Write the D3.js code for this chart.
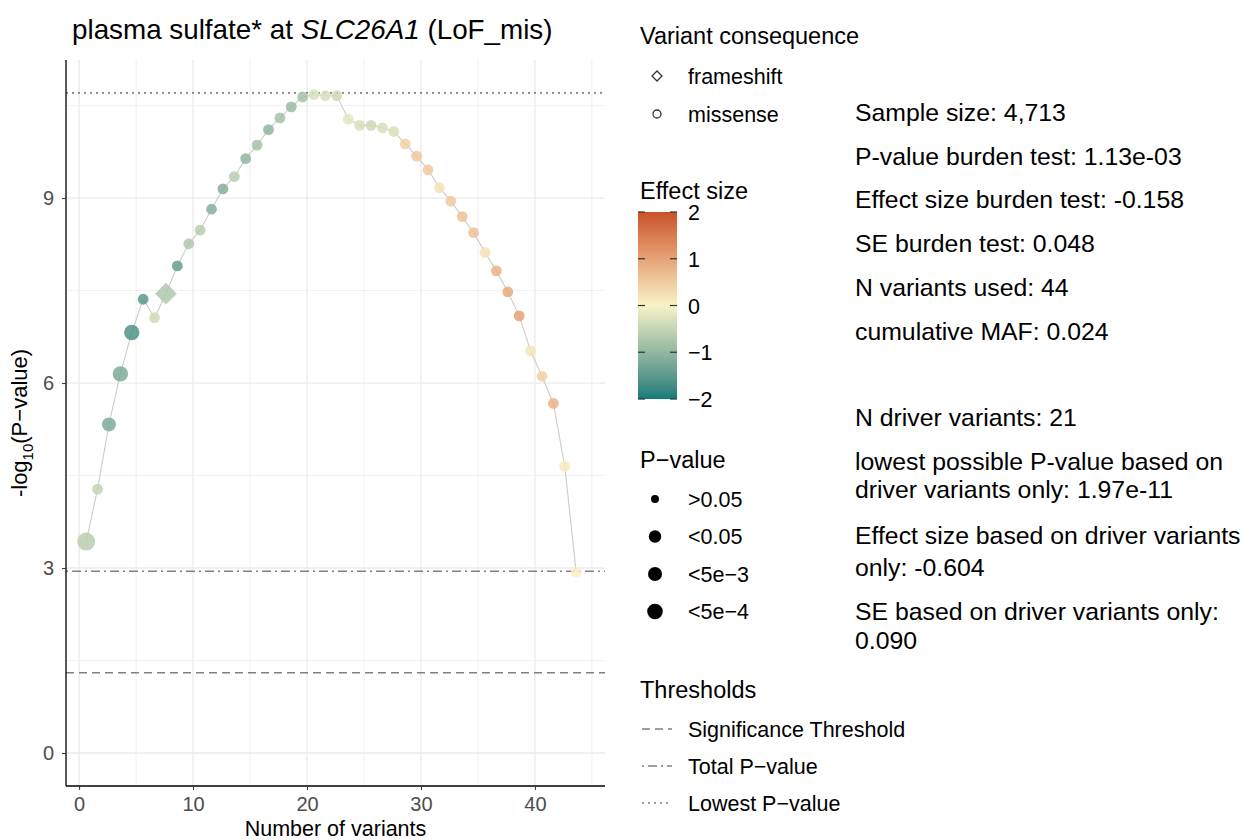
<!DOCTYPE html>
<html>
<head>
<meta charset="utf-8">
<title>plasma sulfate at SLC26A1</title>
<script src="https://d3js.org/d3.v7.min.js"></script>
<style>
  body { margin: 0; background: #ffffff; }
  svg { display: block; font-family: "Liberation Sans", Arial, sans-serif; }
  .tick text { fill: #4d4d4d; font-size: 20px; }
</style>
</head>
<body>
<div id="chart"></div>
<script>
// cumulative burden test, one point per added variant
const logP = [3.43, 4.28, 5.33, 6.15, 6.82, 7.36, 7.06, 7.45, 7.90, 8.26,
              8.48, 8.82, 9.15, 9.35, 9.64, 9.86, 10.11, 10.30, 10.48, 10.64,
              10.68, 10.66, 10.66, 10.28, 10.18, 10.18, 10.14, 10.08, 9.88, 9.68,
              9.46, 9.17, 8.95, 8.70, 8.44, 8.12, 7.82, 7.48, 7.09, 6.52,
              6.11, 5.67, 4.65, 2.93];
const effect = [-0.6, -0.5, -1.2, -1.2, -1.6, -1.5, -0.4, -0.7, -1.4, -0.7,
                -0.6, -1.1, -1.1, -0.6, -1.0, -0.8, -1.0, -0.8, -0.9, -0.8,
                -0.3, -0.3, -0.4, -0.2, -0.3, -0.4, -0.3, -0.3, 0.4, 0.5,
                0.5, 0.2, 0.5, 0.6, 0.6, 0.2, 0.8, 0.9, 1.0, 0.15,
                0.4, 0.8, 0.1, 0.05];
const pClass = ["<5e-4", ">0.05", "<0.05", "<5e-3", "<5e-3", ">0.05", ">0.05", "<0.05", ">0.05", ">0.05",
                ">0.05", ">0.05", ">0.05", ">0.05", ">0.05", ">0.05", ">0.05", ">0.05", ">0.05", ">0.05",
                ">0.05", ">0.05", ">0.05", ">0.05", ">0.05", ">0.05", ">0.05", ">0.05", ">0.05", ">0.05",
                ">0.05", ">0.05", ">0.05", ">0.05", ">0.05", ">0.05", ">0.05", ">0.05", ">0.05", ">0.05",
                ">0.05", ">0.05", ">0.05", ">0.05"];
const frameshiftAt = [8];   // variant number with frameshift consequence, others missense

const pLevels = [">0.05", "<0.05", "<5e-3", "<5e-4"];
const consequences = ["frameshift", "missense"];
const effectTicks = [2, 1, 0, -1, -2];
const xTicks = [0, 10, 20, 30, 40];
const yTicks = [0, 3, 6, 9];

const thresholds = [
  { label: "Significance Threshold", value: 1.301, dash: "8,5" },
  { label: "Total P\u2212value", value: 2.947, dash: "2,4,9,4" },
  { label: "Lowest P\u2212value", value: 10.706, dash: "2,4" }
];

const infoLines = [
  "Sample size: 4,713",
  "P-value burden test: 1.13e-03",
  "Effect size burden test: -0.158",
  "SE burden test: 0.048",
  "N variants used: 44",
  "cumulative MAF: 0.024",
  "",
  "N driver variants: 21",
  "lowest possible P-value based on",
  "driver variants only: 1.97e-11",
  "Effect size based on driver variants",
  "only: -0.604",
  "SE based on driver variants only:",
  "0.090"
];
const infoY = [112, 156, 199, 243, 287, 331, null, 417, 461, 489, 535, 567, 611, 640];

// build rows
const data = logP.map((v, i) => ({
  n: i + 1,
  logP: v,
  effect: effect[i],
  p: pClass[i],
  type: frameshiftAt.includes(i + 1) ? "frameshift" : "missense"
}));

const W = 1260, H = 840;
const panel = { left: 66, right: 605, top: 60, bottom: 786 };
const nudge = -0.38;

const svg = d3.select("#chart").append("svg")
  .attr("width", W).attr("height", H);

const x = d3.scaleLinear().domain([-1.15, 46.15]).range([panel.left, panel.right]);
const y = d3.scaleLinear().domain([-0.535, 11.24]).range([panel.bottom, panel.top]);

const color = d3.scaleLinear()
  .domain([-2, 0, 2])
  .range(["#117c7a", "#f7f3c8", "#c8512a"])
  .interpolate(d3.interpolateLab);

const radius = d3.scaleOrdinal().domain(pLevels).range([5.4, 7, 7.7, 9]);

// grid
const grid = svg.append("g");
d3.range(5, 50, 10).forEach(v => {
  grid.append("line").attr("x1", x(v)).attr("x2", x(v))
    .attr("y1", panel.top).attr("y2", panel.bottom)
    .attr("stroke", "#f0f0f0").attr("stroke-width", 1);
});
d3.range(1.5, 12, 3).forEach(v => {
  grid.append("line").attr("x1", panel.left).attr("x2", panel.right)
    .attr("y1", y(v)).attr("y2", y(v))
    .attr("stroke", "#f0f0f0").attr("stroke-width", 1);
});
xTicks.forEach(v => {
  grid.append("line").attr("x1", x(v)).attr("x2", x(v))
    .attr("y1", panel.top).attr("y2", panel.bottom)
    .attr("stroke", "#ebebeb").attr("stroke-width", 1.4);
});
yTicks.forEach(v => {
  grid.append("line").attr("x1", panel.left).attr("x2", panel.right)
    .attr("y1", y(v)).attr("y2", y(v))
    .attr("stroke", "#ebebeb").attr("stroke-width", 1.4);
});

// threshold lines
svg.append("g").selectAll("line")
  .data(thresholds)
  .join("line")
  .attr("x1", panel.left).attr("x2", panel.right)
  .attr("y1", d => y(d.value)).attr("y2", d => y(d.value))
  .attr("stroke", "#808080")
  .attr("stroke-width", 1.6)
  .attr("stroke-dasharray", d => d.dash);

// connecting line
svg.append("path")
  .datum(data)
  .attr("fill", "none")
  .attr("stroke", "#cccccc")
  .attr("stroke-width", 1.1)
  .attr("d", d3.line().x(d => x(d.n + nudge)).y(d => y(d.logP)));

// points
const pts = svg.append("g").attr("opacity", 0.85);
pts.selectAll("circle")
  .data(data.filter(d => d.type === "missense"))
  .join("circle")
  .attr("cx", d => x(d.n + nudge))
  .attr("cy", d => y(d.logP))
  .attr("r", d => radius(d.p))
  .attr("fill", d => color(d.effect));
pts.selectAll("path")
  .data(data.filter(d => d.type === "frameshift"))
  .join("path")
  .attr("d", d => {
    const cx = x(d.n + nudge), cy = y(d.logP), s = radius(d.p) * 1.55;
    return `M${cx},${cy - s}L${cx + s},${cy}L${cx},${cy + s}L${cx - s},${cy}Z`;
  })
  .attr("fill", d => color(d.effect));

// axes
const xAxis = svg.append("g")
  .attr("transform", `translate(0,${panel.bottom})`)
  .call(d3.axisBottom(x).tickValues(xTicks).tickSize(4).tickPadding(7).tickSizeOuter(0));
const yAxis = svg.append("g")
  .attr("transform", `translate(${panel.left},0)`)
  .call(d3.axisLeft(y).tickValues(yTicks).tickSize(4).tickPadding(8).tickSizeOuter(0));
[xAxis, yAxis].forEach(a => {
  a.select(".domain").attr("stroke", "#000").attr("stroke-width", 1.3);
  a.selectAll(".tick line").attr("stroke", "#333");
  a.selectAll(".tick text").style("font-family", "Liberation Sans, Arial, sans-serif");
});
xAxis.select(".domain").attr("d", `M${panel.left},0H${panel.right}`);
yAxis.select(".domain").attr("d", `M0,${panel.bottom}V${panel.top}`);

svg.append("text")
  .attr("x", (panel.left + panel.right) / 2).attr("y", 836)
  .attr("text-anchor", "middle").attr("font-size", 21.5).attr("fill", "#000")
  .text("Number of variants");

const yl = svg.append("text")
  .attr("transform", `translate(27,${(panel.top + panel.bottom) / 2}) rotate(-90)`)
  .attr("text-anchor", "middle").attr("font-size", 22).attr("fill", "#000");
yl.append("tspan").text("-log");
yl.append("tspan").attr("font-size", 15).attr("dy", 6).text("10");
yl.append("tspan").attr("dy", -6).text("(P\u2212value)");

// title
const title = svg.append("text")
  .attr("x", 72).attr("y", 39)
  .attr("font-size", 27.8).attr("fill", "#000");
title.append("tspan").text("plasma sulfate* at ");
title.append("tspan").attr("font-style", "italic").text("SLC26A1");
title.append("tspan").text(" (LoF_mis)");

// legends
const lg = svg.append("g").attr("font-size", 21.5).attr("fill", "#000");

lg.append("text").attr("x", 640).attr("y", 43.5).attr("font-size", 23.5).text("Variant consequence");
consequences.forEach((c, i) => {
  const cy = 76 + i * 38;
  if (c === "frameshift") {
    lg.append("path")
      .attr("d", `M657,${cy - 5}L662,${cy}L657,${cy + 5}L652,${cy}Z`)
      .attr("fill", "none").attr("stroke", "#333").attr("stroke-width", 1.3);
  } else {
    lg.append("circle").attr("cx", 657).attr("cy", cy).attr("r", 4)
      .attr("fill", "none").attr("stroke", "#333").attr("stroke-width", 1.3);
  }
  lg.append("text").attr("x", 688).attr("y", cy + 7.5).text(c);
});

lg.append("text").attr("x", 640).attr("y", 198.5).attr("font-size", 23.5).text("Effect size");
const bar = { x: 638, y: 212, w: 39, h: 187 };
const defs = svg.append("defs");
const grad = defs.append("linearGradient").attr("id", "esgrad")
  .attr("x1", 0).attr("x2", 0).attr("y1", 0).attr("y2", 1);
d3.range(0, 21).forEach(i => {
  const v = 2 - i * 0.2;
  grad.append("stop").attr("offset", `${i * 5}%`).attr("stop-color", color(v));
});
lg.append("rect").attr("x", bar.x).attr("y", bar.y).attr("width", bar.w).attr("height", bar.h)
  .attr("fill", "url(#esgrad)");
const es = d3.scaleLinear().domain([2, -2]).range([bar.y, bar.y + bar.h]);
effectTicks.forEach(t => {
  const ty = es(t);
  lg.append("line").attr("x1", bar.x).attr("x2", bar.x + 7).attr("y1", ty).attr("y2", ty)
    .attr("stroke", "#333").attr("stroke-width", 1.2);
  lg.append("line").attr("x1", bar.x + bar.w - 7).attr("x2", bar.x + bar.w).attr("y1", ty).attr("y2", ty)
    .attr("stroke", "#333").attr("stroke-width", 1.2);
  lg.append("text").attr("x", bar.x + bar.w + 11).attr("y", ty + 8)
    .text(t < 0 ? "\u2212" + Math.abs(t) : t);
});

lg.append("text").attr("x", 640).attr("y", 467.5).attr("font-size", 23.5).text("P\u2212value");
const legendR = [4, 6.2, 7, 7.8];
pLevels.forEach((p, i) => {
  const cy = 499 + i * 37.5;
  lg.append("circle").attr("cx", 655).attr("cy", cy).attr("r", legendR[i]).attr("fill", "#000");
  lg.append("text").attr("x", 688).attr("y", cy + 7.5).text(p.replace("-", "\u2212"));
});

lg.append("text").attr("x", 640).attr("y", 697.5).attr("font-size", 23.5).text("Thresholds");
thresholds.forEach((t, i) => {
  const cy = 729 + i * 37;
  lg.append("line").attr("x1", 642).attr("x2", 672).attr("y1", cy).attr("y2", cy)
    .attr("stroke", "#808080").attr("stroke-width", 1.6).attr("stroke-dasharray", t.dash);
  lg.append("text").attr("x", 688).attr("y", cy + 7.5).text(t.label);
});

// statistics text
svg.append("g").selectAll("text")
  .data(infoLines.map((t, i) => ({ t, y: infoY[i] })).filter(d => d.t))
  .join("text")
  .attr("x", 855).attr("y", d => d.y + 8.7)
  .attr("font-size", 24.8).attr("fill", "#000")
  .text(d => d.t);
</script>
</body>
</html>
